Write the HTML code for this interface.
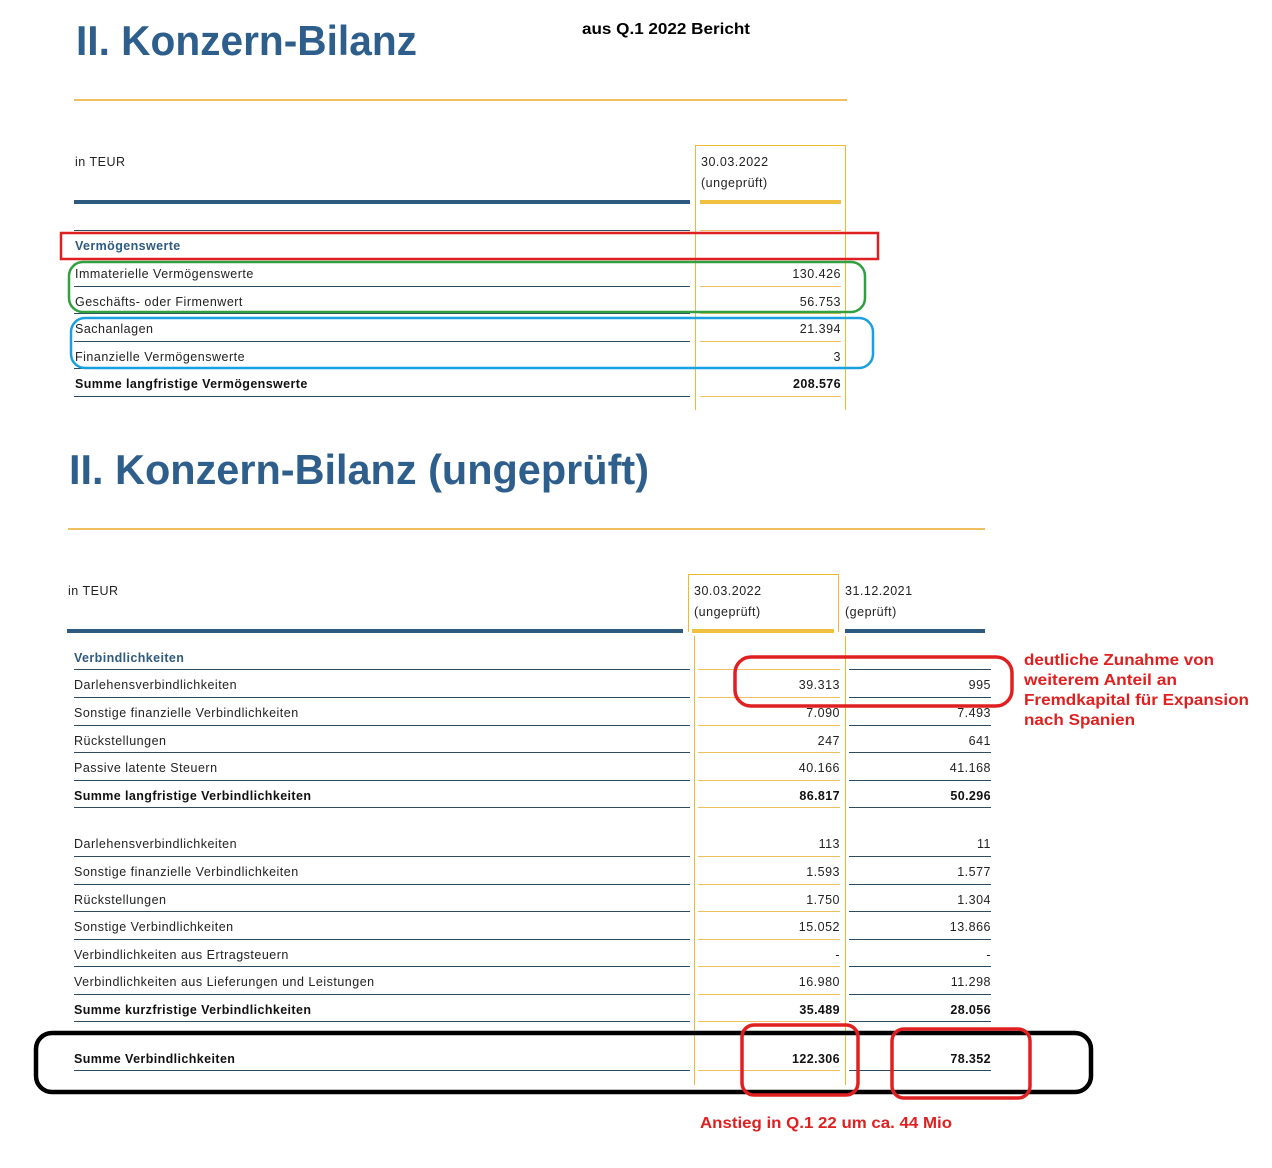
<!DOCTYPE html>
<html><head><meta charset="utf-8"><style>
html,body{margin:0;padding:0;background:#fff;}
svg{display:block;}
text{font-family:"Liberation Sans",sans-serif;}
.t{font-size:12.5px;fill:#222;letter-spacing:0.5px;}
.b{font-size:12.5px;fill:#111;font-weight:bold;letter-spacing:0.4px;}
.h{font-size:12.5px;fill:#2e5a80;font-weight:bold;letter-spacing:0.4px;}
.n{font-size:12.5px;fill:#222;letter-spacing:0.5px;text-anchor:end;}
.nb{font-size:12.5px;fill:#111;font-weight:bold;letter-spacing:0.4px;text-anchor:end;}
.ti{font-size:42px;fill:#2e5f8c;font-weight:bold;}
.r{font-size:16px;fill:#e02020;font-weight:bold;}
</style></head><body>
<svg width="1272" height="1168" viewBox="0 0 1272 1168" xmlns="http://www.w3.org/2000/svg">
<!-- TOP -->
<text class="ti" x="76" y="55" textLength="341" lengthAdjust="spacingAndGlyphs">II. Konzern-Bilanz</text>
<text x="582" y="34" style="font-size:15.5px;font-weight:bold;fill:#000" textLength="168" lengthAdjust="spacingAndGlyphs">aus Q.1 2022 Bericht</text>
<rect x="74" y="99" width="773" height="2" fill="#f0c060"/>
<text class="t" x="75" y="166">in TEUR</text>
<path d="M695.5 410 V145.5 H845.5 V410" fill="none" stroke="#eebb30" stroke-width="1"/>
<text class="t" x="701" y="166">30.03.2022</text>
<text class="t" x="701" y="187">(ungeprüft)</text>
<rect x="74" y="200" width="616" height="4" fill="#2e5a80"/>
<rect x="700" y="200" width="141" height="4" fill="#f0c040"/>
<g fill="#2e4a60">
<rect x="74" y="230" width="616" height="1"/><rect x="74" y="286" width="616" height="1"/><rect x="74" y="313" width="616" height="1"/><rect x="74" y="341" width="616" height="1"/><rect x="74" y="368" width="616" height="1"/><rect x="74" y="396" width="616" height="1"/>
</g>
<g fill="#f0c060">
<rect x="700" y="230" width="141" height="1"/><rect x="700" y="286" width="141" height="1"/><rect x="700" y="313" width="141" height="1"/><rect x="700" y="341" width="141" height="1"/><rect x="700" y="368" width="141" height="1"/><rect x="700" y="396" width="141" height="1"/>
</g>
<text class="h" x="75" y="250">Vermögenswerte</text>
<text class="t" x="75" y="278">Immaterielle Vermögenswerte</text><text class="n" x="841" y="278">130.426</text>
<text class="t" x="75" y="306">Geschäfts- oder Firmenwert</text><text class="n" x="841" y="306">56.753</text>
<text class="t" x="75" y="333">Sachanlagen</text><text class="n" x="841" y="333">21.394</text>
<text class="t" x="75" y="361">Finanzielle Vermögenswerte</text><text class="n" x="841" y="361">3</text>
<text class="b" x="75" y="388">Summe langfristige Vermögenswerte</text><text class="nb" x="841" y="388">208.576</text>
<rect x="61" y="233" width="817" height="26" fill="none" stroke="#e02020" stroke-width="2.5"/>
<rect x="69" y="262" width="796" height="50" rx="14" fill="none" stroke="#30a040" stroke-width="2.5"/>
<rect x="71" y="318" width="802" height="50" rx="14" fill="none" stroke="#1aa0e0" stroke-width="2.5"/>

<!-- BOTTOM -->
<text class="ti" x="69" y="484" textLength="580" lengthAdjust="spacingAndGlyphs">II. Konzern-Bilanz (ungeprüft)</text>
<rect x="68" y="528" width="917" height="2" fill="#f0c060"/>
<text class="t" x="68" y="595">in TEUR</text>
<path d="M688.5 632 V574.5 H838.5 V632" fill="none" stroke="#eebb30" stroke-width="1"/>
<path d="M694.5 636 V1085 M845.5 636 V1085" fill="none" stroke="#eebb30" stroke-width="1"/>
<text class="t" x="694" y="595">30.03.2022</text>
<text class="t" x="694" y="616">(ungeprüft)</text>
<text class="t" x="845" y="595">31.12.2021</text>
<text class="t" x="845" y="616">(geprüft)</text>
<rect x="67" y="629" width="616" height="4" fill="#2e5a80"/>
<rect x="692" y="629" width="142" height="4" fill="#f0c040"/>
<rect x="845" y="629" width="140" height="4" fill="#2e5a80"/>
<g id="lines">
<rect x="74" y="669" width="616" height="1" fill="#2e4a60"/><rect x="698" y="669" width="142" height="1" fill="#f0c060"/><rect x="849" y="669" width="142" height="1" fill="#2e4a60"/>
<rect x="74" y="697" width="616" height="1" fill="#2e4a60"/><rect x="698" y="697" width="142" height="1" fill="#f0c060"/><rect x="849" y="697" width="142" height="1" fill="#2e4a60"/>
<rect x="74" y="725" width="616" height="1" fill="#2e4a60"/><rect x="698" y="725" width="142" height="1" fill="#f0c060"/><rect x="849" y="725" width="142" height="1" fill="#2e4a60"/>
<rect x="74" y="752" width="616" height="1" fill="#2e4a60"/><rect x="698" y="752" width="142" height="1" fill="#f0c060"/><rect x="849" y="752" width="142" height="1" fill="#2e4a60"/>
<rect x="74" y="780" width="616" height="1" fill="#2e4a60"/><rect x="698" y="780" width="142" height="1" fill="#f0c060"/><rect x="849" y="780" width="142" height="1" fill="#2e4a60"/>
<rect x="74" y="807" width="616" height="1" fill="#2e4a60"/><rect x="698" y="807" width="142" height="1" fill="#f0c060"/><rect x="849" y="807" width="142" height="1" fill="#2e4a60"/>
<rect x="74" y="856" width="616" height="1" fill="#2e4a60"/><rect x="698" y="856" width="142" height="1" fill="#f0c060"/><rect x="849" y="856" width="142" height="1" fill="#2e4a60"/>
<rect x="74" y="884" width="616" height="1" fill="#2e4a60"/><rect x="698" y="884" width="142" height="1" fill="#f0c060"/><rect x="849" y="884" width="142" height="1" fill="#2e4a60"/>
<rect x="74" y="911" width="616" height="1" fill="#2e4a60"/><rect x="698" y="911" width="142" height="1" fill="#f0c060"/><rect x="849" y="911" width="142" height="1" fill="#2e4a60"/>
<rect x="74" y="939" width="616" height="1" fill="#2e4a60"/><rect x="698" y="939" width="142" height="1" fill="#f0c060"/><rect x="849" y="939" width="142" height="1" fill="#2e4a60"/>
<rect x="74" y="966" width="616" height="1" fill="#2e4a60"/><rect x="698" y="966" width="142" height="1" fill="#f0c060"/><rect x="849" y="966" width="142" height="1" fill="#2e4a60"/>
<rect x="74" y="994" width="616" height="1" fill="#2e4a60"/><rect x="698" y="994" width="142" height="1" fill="#f0c060"/><rect x="849" y="994" width="142" height="1" fill="#2e4a60"/>
<rect x="74" y="1021" width="616" height="1" fill="#2e4a60"/><rect x="698" y="1021" width="142" height="1" fill="#f0c060"/><rect x="849" y="1021" width="142" height="1" fill="#2e4a60"/>
<rect x="74" y="1070" width="616" height="1" fill="#2e4a60"/><rect x="698" y="1070" width="142" height="1" fill="#f0c060"/><rect x="849" y="1070" width="142" height="1" fill="#2e4a60"/>
</g>
<text class="h" x="74" y="662">Verbindlichkeiten</text>
<text class="t" x="74" y="689">Darlehensverbindlichkeiten</text><text class="n" x="840" y="689">39.313</text><text class="n" x="991" y="689">995</text>
<text class="t" x="74" y="717">Sonstige finanzielle Verbindlichkeiten</text><text class="n" x="840" y="717">7.090</text><text class="n" x="991" y="717">7.493</text>
<text class="t" x="74" y="745">Rückstellungen</text><text class="n" x="840" y="745">247</text><text class="n" x="991" y="745">641</text>
<text class="t" x="74" y="772">Passive latente Steuern</text><text class="n" x="840" y="772">40.166</text><text class="n" x="991" y="772">41.168</text>
<text class="b" x="74" y="800">Summe langfristige Verbindlichkeiten</text><text class="nb" x="840" y="800">86.817</text><text class="nb" x="991" y="800">50.296</text>
<text class="t" x="74" y="848">Darlehensverbindlichkeiten</text><text class="n" x="840" y="848">113</text><text class="n" x="991" y="848">11</text>
<text class="t" x="74" y="876">Sonstige finanzielle Verbindlichkeiten</text><text class="n" x="840" y="876">1.593</text><text class="n" x="991" y="876">1.577</text>
<text class="t" x="74" y="904">Rückstellungen</text><text class="n" x="840" y="904">1.750</text><text class="n" x="991" y="904">1.304</text>
<text class="t" x="74" y="931">Sonstige Verbindlichkeiten</text><text class="n" x="840" y="931">15.052</text><text class="n" x="991" y="931">13.866</text>
<text class="t" x="74" y="959">Verbindlichkeiten aus Ertragsteuern</text><text class="n" x="840" y="959">-</text><text class="n" x="991" y="959">-</text>
<text class="t" x="74" y="986">Verbindlichkeiten aus Lieferungen und Leistungen</text><text class="n" x="840" y="986">16.980</text><text class="n" x="991" y="986">11.298</text>
<text class="b" x="74" y="1014">Summe kurzfristige Verbindlichkeiten</text><text class="nb" x="840" y="1014">35.489</text><text class="nb" x="991" y="1014">28.056</text>
<text class="b" x="74" y="1063">Summe Verbindlichkeiten</text><text class="nb" x="840" y="1063">122.306</text><text class="nb" x="991" y="1063">78.352</text>

<!-- annotations -->
<rect x="735" y="657" width="277" height="49" rx="16" fill="none" stroke="#e02020" stroke-width="3.5"/>
<text class="r" x="1024" y="665" textLength="190" lengthAdjust="spacingAndGlyphs">deutliche Zunahme von</text>
<text class="r" x="1024" y="685" textLength="153" lengthAdjust="spacingAndGlyphs">weiterem Anteil an</text>
<text class="r" x="1024" y="705" textLength="225" lengthAdjust="spacingAndGlyphs">Fremdkapital für Expansion</text>
<text class="r" x="1024" y="725" textLength="111" lengthAdjust="spacingAndGlyphs">nach Spanien</text>
<rect x="36" y="1033" width="1055" height="59" rx="16" fill="none" stroke="#000" stroke-width="4.5"/>
<rect x="742" y="1025" width="116" height="70" rx="12" fill="none" stroke="#e02020" stroke-width="3.5"/>
<rect x="892" y="1029" width="138" height="69" rx="12" fill="none" stroke="#e02020" stroke-width="3.5"/>
<text class="r" x="700" y="1128" textLength="252" lengthAdjust="spacingAndGlyphs">Anstieg in Q.1 22 um ca. 44 Mio</text>
</svg>
</body></html>
